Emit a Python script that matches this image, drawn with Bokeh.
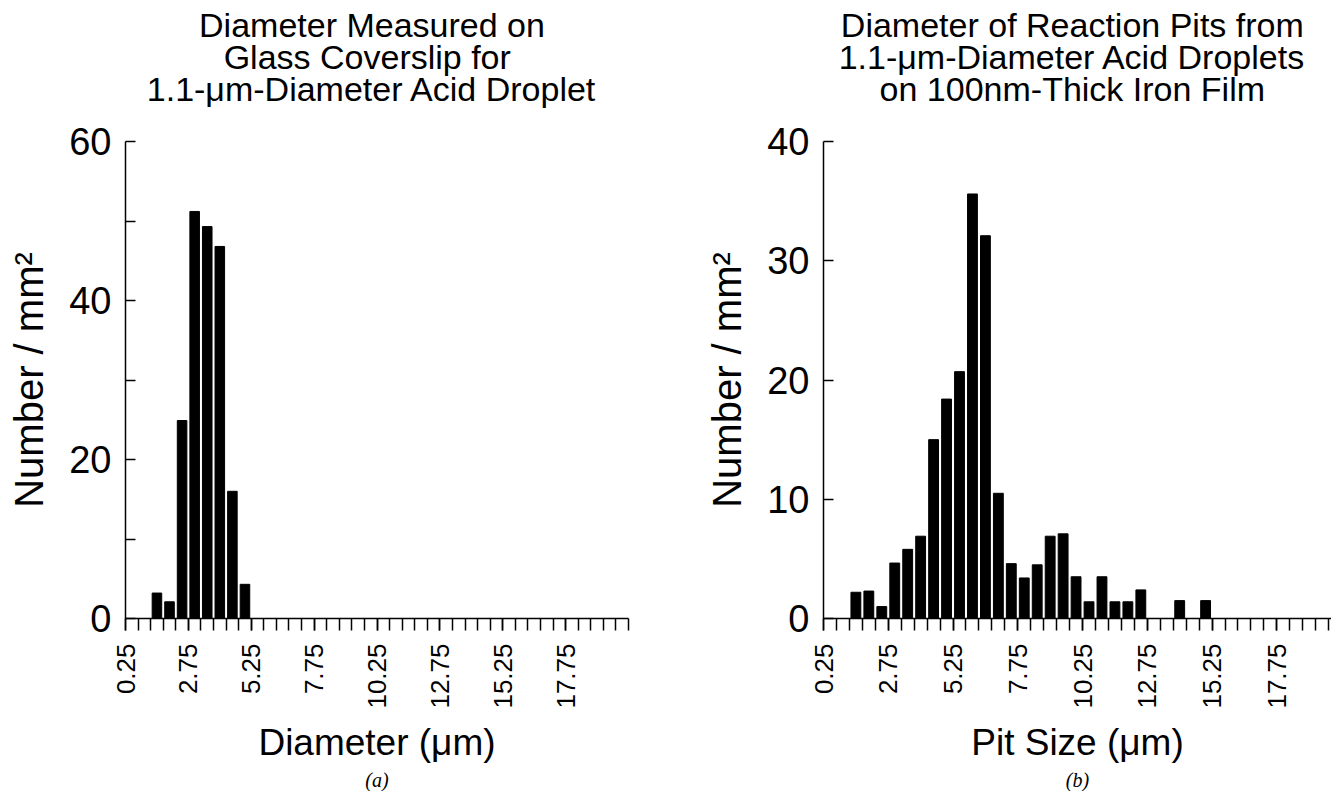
import math
from bokeh.plotting import figure
from bokeh.models import FixedTicker, Title, Range1d
from bokeh.layouts import row, column
from bokeh.core.properties import value
from bokeh.embed import file_html
from bokeh.resources import INLINE

# ---------------- data ----------------
a_title = ["Diameter Measured on", "Glass Coverslip  for", "1.1-\u03bcm-Diameter Acid Droplet"]
a_xlabel = "Diameter (\u03bcm)"
a_centers = [1.5, 2.0, 2.5, 3.0, 3.5, 4.0, 4.5, 5.0]
a_counts = [3.2, 2.1, 24.9, 51.2, 49.3, 46.8, 16.0, 4.3]
a_yticks = [0, 20, 40, 60]
a_yminor = [10, 30, 50]

b_title = ["Diameter of Reaction Pits from", "1.1-\u03bcm-Diameter Acid Droplets", "on 100nm-Thick Iron Film"]
b_xlabel = "Pit Size (\u03bcm)"
b_centers = [1.5, 2.0, 2.5, 3.0, 3.5, 4.0, 4.5, 5.0, 5.5, 6.0, 6.5, 7.0, 7.5,
             8.0, 8.5, 9.0, 9.5, 10.0, 10.5, 11.0, 11.5, 12.0, 12.5, 14.0, 15.0]
b_counts = [2.2, 2.3, 1.0, 4.65, 5.8, 6.9, 15.0, 18.4, 20.7, 35.6, 32.1, 10.5, 4.6,
            3.4, 4.5, 6.9, 7.1, 3.5, 1.4, 3.5, 1.4, 1.4, 2.4, 1.5, 1.5]
b_yticks = [0, 10, 20, 30, 40]
b_yminor = []

x_major = [0.25, 2.75, 5.25, 7.75, 10.25, 12.75, 15.25, 17.75]
x_labels = ["0.25", "2.75", "5.25", "7.75", "10.25", "12.75", "15.25", "17.75"]
x_minor = [0.25 + 0.5 * k for k in range(41)]

FONT = "Liberation Sans"
TITLE_H = 121          # height of the strip holding the three title lines
TITLE_Y = [97, 65, 33]  # px above the strip bottom
PLOT_TOP = 20
FRAME_H = 477
PLOT_BOTTOM = 173


def panel(title_lines, xlabel, centers, counts, ymax, yticks, yminor, tag,
          width, border_left, border_right, x_end):
    # ---- title strip ----
    t = figure(width=width, height=TITLE_H, output_backend="svg", toolbar_location=None,
               x_range=Range1d(0.25, x_end), y_range=Range1d(0, TITLE_H),
               x_axis_location=None, y_axis_location=None,
               min_border_left=border_left, min_border_right=border_right,
               min_border_top=0, min_border_bottom=0)
    t.grid.visible = False
    t.outline_line_color = None
    t.background_fill_color = "white"
    t.border_fill_color = "white"
    xc = (0.25 + x_end) / 2.0 - 0.2
    t.text(x=[xc] * 3, y=TITLE_Y, text=title_lines,
           text_align="center", text_baseline="alphabetic",
           text_font=value(FONT), text_font_size="34px", text_color="black")

    # ---- histogram ----
    p = figure(width=width, height=PLOT_TOP + FRAME_H + PLOT_BOTTOM,
               output_backend="svg", toolbar_location=None,
               x_range=Range1d(0.25, x_end), y_range=Range1d(0, ymax),
               min_border_left=border_left, min_border_right=border_right,
               min_border_top=PLOT_TOP, min_border_bottom=PLOT_BOTTOM)
    p.outline_line_color = None
    p.xgrid.visible = False
    p.ygrid.visible = False
    p.background_fill_color = "white"
    p.border_fill_color = "white"

    p.vbar(x=centers, top=counts, width=0.38, bottom=0,
           fill_color="black", line_color="black")

    xa = p.xaxis[0]
    xa.ticker = FixedTicker(ticks=x_major, minor_ticks=x_minor)
    xa.major_label_overrides = {v: s for v, s in zip(x_major, x_labels)}
    xa.major_label_orientation = math.pi / 2
    xa.major_label_text_font = FONT
    xa.major_label_text_font_size = "26px"
    xa.major_label_text_color = "black"
    xa.major_label_standoff = 13
    xa.major_tick_in = 0
    xa.major_tick_out = 12
    xa.minor_tick_in = 0
    xa.minor_tick_out = 12
    xa.axis_line_width = 1.5
    xa.major_tick_line_width = 1.5
    xa.minor_tick_line_width = 1.5
    xa.axis_line_color = "black"
    xa.major_tick_line_color = "black"
    xa.minor_tick_line_color = "black"
    xa.axis_label = xlabel
    xa.axis_label_text_font = FONT
    xa.axis_label_text_font_size = "37px"
    xa.axis_label_text_font_style = "normal"
    xa.axis_label_text_color = "black"
    xa.axis_label_standoff = 10

    ya = p.yaxis[0]
    ya.ticker = FixedTicker(ticks=yticks, minor_ticks=yminor)
    ya.major_label_text_font = FONT
    ya.major_label_text_font_size = "38px"
    ya.major_label_text_color = "black"
    ya.major_label_standoff = 14
    ya.major_tick_in = 10
    ya.major_tick_out = 0
    ya.minor_tick_in = 10
    ya.minor_tick_out = 0
    ya.axis_line_width = 1.5
    ya.major_tick_line_width = 1.5
    ya.minor_tick_line_width = 1.5
    ya.axis_line_color = "black"
    ya.major_tick_line_color = "black"
    ya.minor_tick_line_color = "black"
    ya.axis_label = "Number / mm\u00b2"
    ya.axis_label_text_font = FONT
    ya.axis_label_text_font_size = "40px"
    ya.axis_label_text_font_style = "normal"
    ya.axis_label_text_color = "black"
    ya.axis_label_standoff = 15

    sub = Title(text=tag, align="center", text_font="Liberation Serif",
                text_font_size="20px", text_font_style="italic", text_color="black",
                standoff=2)
    p.add_layout(sub, "below")
    return column(t, p, spacing=0)


pa = panel(a_title, a_xlabel, a_centers, a_counts, 60, a_yticks, a_yminor, "(a)",
           width=698, border_left=125, border_right=70, x_end=20.25)
pb = panel(b_title, b_xlabel, b_centers, b_counts, 40, b_yticks, b_yminor, "(b)",
           width=633, border_left=125, border_right=0, x_end=19.86)

layout = row(pa, pb, spacing=0)
open("out.html", "w").write(file_html(layout, INLINE))
